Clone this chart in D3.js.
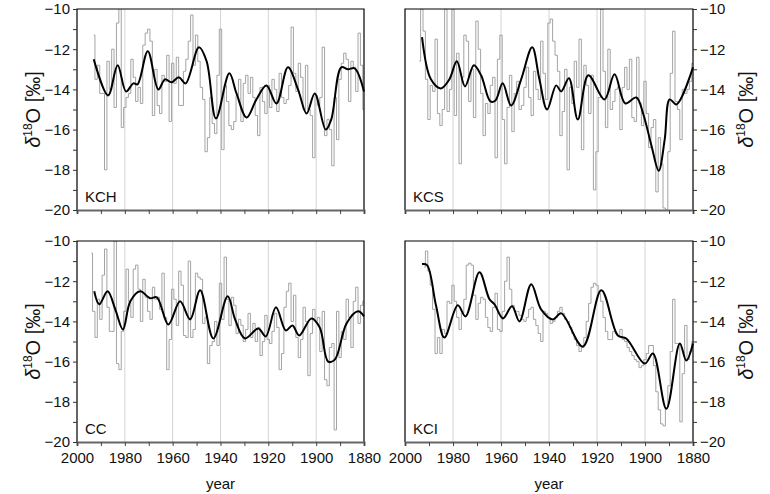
<!DOCTYPE html>
<html>
<head>
<meta charset="utf-8">
<script src="https://cdn.jsdelivr.net/npm/d3@7"></script>
<style>
  body { margin: 0; background: #fff; }
  text { font-family: "Liberation Sans", Arial, sans-serif; }
</style>
</head>
<body>
<script>
// annual series (grey steps), first year given, one value per year going back
const kchStart = 1993;
const kchAnnual = [
  -11.3,-13.5,-12.8,-14.2,-14.2,-18.0,-12.6,-14.0,-12.0,-14.9,
  -10.7,-9.9,-15.9,-14.9,-14.4,-14.2,-12.5,-13.4,-14.6,-13.9,
  -14.7,-11.8,-11.2,-11.0,-11.6,-15.3,-13.0,-14.8,-15.2,-13.3,
  -13.6,-12.3,-15.6,-12.7,-13.7,-12.4,-14.8,-14.8,-13.1,-12.5,
  -11.6,-10.3,-12.8,-11.3,-12.6,-13.9,-14.5,-17.1,-16.4,-14.4,
  -15.7,-16.2,-13.3,-11.0,-17.0,-13.8,-14.6,-15.8,-16.0,-15.6,
  -14.3,-13.5,-15.6,-13.7,-13.3,-14.2,-13.4,-14.4,-15.3,-16.3,
  -13.9,-14.6,-15.2,-13.8,-14.9,-13.5,-14.0,-15.1,-13.2,-14.4,-14.7,
  -14.5,-13.8,-10.9,-13.2,-14.1,-12.7,-13.4,-15.0,-12.8,-15.0,
  -15.3,-17.4,-14.3,-14.8,-14.4,-11.9,-16.3,-15.5,-16.0,-17.8,
  -14.4,-16.5,-13.5,-12.7,-12.2,-12.5,-14.6,-12.6,-12.9,-14.1,
  -11.2,-12.8,-15.0
];
const kcsStart = 1994;
const kcsAnnual = [
  -12.6,-10.0,-11.1,-13.5,-15.5,-13.8,-14.1,-11.5,-15.2,-15.8,
  -15.0,-10.0,-15.1,-14.0,-10.0,-15.3,-12.2,-17.7,-13.4,-11.3,
  -11.6,-14.6,-13.0,-15.4,-10.6,-12.0,-14.2,-16.3,-14.7,-15.2,
  -13.8,-13.4,-17.4,-12.5,-11.3,-15.5,-17.7,-14.9,-13.3,-16.1,
  -14.2,-13.6,-15.0,-14.8,-13.9,-12.9,-14.4,-15.3,-13.1,-14.0,
  -14.5,-11.6,-13.2,-14.5,-10.7,-10.5,-11.6,-12.3,-13.1,-16.3,
  -15.1,-13.0,-18.0,-13.9,-14.7,-12.6,-13.9,-11.5,-17.0,-12.8,
  -13.8,-15.2,-13.3,-19.0,-17.1,-14.4,-10.0,-13.1,-15.9,-12.0,
  -15.0,-14.6,-14.0,-13.9,-16.0,-13.9,-12.9,-14.0,-12.5,-15.4,
  -15.6,-12.4,-14.7,-15.8,-13.6,-15.2,-16.9,-15.9,-15.5,-19.1,
  -16.4,-17.7,-19.9,-20.0,-17.1,-13.2,-11.1,-14.6,-15.0,-16.5,
  -14.0,-14.2,-14.0,-13.6,-12.7
];
const ccStart = 1994;
const ccAnnual = [
  -10.6,-13.5,-14.8,-12.9,-13.9,-11.7,-10.4,-13.3,-14.5,-14.5,
  -10.0,-16.1,-16.4,-14.5,-13.5,-11.4,-13.0,-13.8,-11.4,-11.2,
  -12.4,-14.0,-11.9,-12.8,-13.5,-13.9,-12.3,-12.9,-12.8,-13.4,
  -11.6,-13.8,-16.4,-14.9,-12.4,-12.9,-14.2,-11.5,-12.2,-14.7,
  -14.8,-11.0,-14.8,-14.4,-11.6,-11.8,-11.9,-14.1,-13.8,-16.1,
  -15.2,-15.0,-14.0,-15.2,-12.1,-13.9,-10.8,-12.9,-14.2,-12.8,
  -13.2,-14.6,-13.9,-14.2,-15.0,-14.4,-13.6,-14.8,-14.1,
  -15.0,-14.3,-15.7,-15.0,-13.7,-14.9,-15.1,-14.5,-13.6,-14.3,
  -16.4,-15.6,-13.3,-12.5,-12.1,-14.0,-12.7,-14.8,-15.8,-14.9,
  -13.3,-14.0,-16.7,-14.6,-13.4,-14.0,-13.8,-15.5,-13.5,-16.9,
  -17.2,-15.3,-15.1,-19.4,-13.5,-15.8,-14.5,-14.9,-12.9,-13.8,
  -15.3,-13.0,-12.3,-14.1,-13.2,-13.0
];
const kciStart = 1992;
const kciAnnual = [
  -11.3,-10.5,-11.5,-12.2,-13.4,-15.6,-14.8,-15.6,-14.4,-14.6,
  -13.0,-13.1,-12.2,-13.0,-13.8,-14.4,-13.6,-12.9,-11.2,-11.1,
  -11.2,-12.7,-13.9,-13.1,-12.8,-12.9,-13.8,-14.3,-14.5,-13.3,
  -12.6,-14.4,-14.5,-13.5,-12.0,-10.8,-12.4,-13.2,-13.5,-13.5,
  -13.7,-13.9,-14.0,-13.8,-13.4,-13.3,-13.9,-14.2,-14.6,-15.0,
  -13.5,-13.6,-13.8,-14.1,-14.0,-13.8,-13.5,-13.3,-13.6,-13.9,
  -14.0,-14.3,-14.6,-14.9,-15.2,-15.5,-15.3,-14.8,-14.0,-13.1,
  -12.3,-12.1,-12.2,-12.6,-13.0,-13.8,-14.5,-14.9,-14.9,-14.5,
  -14.6,-14.7,-14.4,-14.9,-15.0,-15.3,-15.5,-15.7,-15.9,-16.0,
  -16.3,-16.2,-15.9,-15.6,-15.2,-15.2,-16.2,-17.5,-18.4,-19.1,
  -19.2,-18.3,-17.2,-15.5,-12.9,-15.1,-15.1,-19.0,-16.6,-14.2,
  -15.9,-15.5,-15.0
];

// smoothed curves: [year, value]
const kchSmooth = [[1993,-12.5],[1987,-14.3],[1983,-12.8],[1979.5,-14.1],[1976.4,-13.7],[1974.7,-13.75],
  [1970.4,-12.1],[1966,-14.0],[1963.2,-13.5],[1960.5,-13.65],[1957.4,-13.4],[1954.6,-13.7],[1949,-11.9],
  [1945.8,-12.6],[1941.9,-15.45],[1936.3,-13.2],[1933.3,-14.2],[1929.1,-15.4],[1925,-14.5],[1920.8,-13.8],
  [1916.6,-14.7],[1911.8,-12.9],[1907.6,-14.0],[1904,-15.2],[1900.6,-14.2],[1896,-16.0],[1893.7,-15.5],
  [1889.5,-12.9],[1886.7,-13.0],[1883.9,-12.95],[1880,-14.1]];
const kcsSmooth = [[1992.9,-11.4],[1989.2,-13.5],[1985,-13.95],[1981.5,-13.5],[1978.4,-12.6],[1975,-13.85],
  [1971.3,-12.8],[1968.3,-13.3],[1964.4,-14.6],[1962.3,-14.55],[1959.3,-13.7],[1955.8,-14.8],[1951.6,-13.5],
  [1947,-11.9],[1944,-13.5],[1940.8,-15.0],[1937,-13.8],[1934.9,-14.1],[1931.7,-13.45],[1928,-15.5],
  [1923.6,-13.3],[1916.9,-14.5],[1912.7,-13.25],[1908.2,-14.7],[1903.6,-14.4],[1900.8,-15.2],[1897.3,-16.8],
  [1894.3,-18.05],[1891.8,-16.5],[1889.7,-14.5],[1886.9,-14.75],[1880,-12.9]];
const ccSmooth = [[1992.8,-12.5],[1990.7,-13.15],[1987.2,-12.5],[1984,-13.4],[1980.8,-14.4],[1977.7,-13.0],
  [1973.6,-12.5],[1969.4,-12.85],[1966.6,-12.8],[1961.8,-14.15],[1956.9,-13.0],[1952.7,-13.9],[1948.5,-12.45],
  [1943,-14.85],[1937,-12.75],[1933.9,-13.9],[1929.8,-14.85],[1924.2,-14.35],[1921.1,-14.75],[1916.8,-13.3],
  [1912.7,-14.45],[1909.9,-14.2],[1907.1,-14.7],[1902,-13.85],[1898.5,-14.3],[1895,-16.0],[1892.2,-15.9],
  [1887.3,-14.1],[1882.5,-13.5],[1880,-13.75]];
const kciSmooth = [[1992.9,-11.15],[1990.8,-11.2],[1987.1,-13.2],[1983.6,-14.8],[1978,-13.2],[1974.8,-13.75],
  [1969,-11.55],[1964.8,-12.9],[1962.7,-13.15],[1959.2,-13.85],[1955.4,-13.25],[1952.3,-14.0],[1947.4,-12.15],
  [1943.3,-13.4],[1938.4,-13.9],[1934.9,-13.6],[1925.9,-15.25],[1918.2,-12.45],[1911.3,-14.7],[1907.8,-14.85],
  [1900.1,-16.1],[1896.7,-15.6],[1891.1,-18.35],[1885.5,-15.1],[1882.8,-15.95],[1880,-15.1]];

const gridYears = [1980, 1960, 1940, 1920, 1900];
const valueTicks = [-10, -12, -14, -16, -18, -20];

const panels = [
  {name: "KCH", start: kchStart, annual: kchAnnual, smooth: kchSmooth, col: 0, row: 0},
  {name: "KCS", start: kcsStart, annual: kcsAnnual, smooth: kcsSmooth, col: 1, row: 0},
  {name: "CC",  start: ccStart,  annual: ccAnnual,  smooth: ccSmooth,  col: 0, row: 1},
  {name: "KCI", start: kciStart, annual: kciAnnual, smooth: kciSmooth, col: 1, row: 1}
];

const W = 770, H = 494;
const colX = [[77, 364], [405, 693]];
const rowY = [[9, 210], [241, 442]];

const svg = d3.select("body").append("svg").attr("width", W).attr("height", H);

panels.forEach(p => {
  const x = d3.scaleLinear().domain([2000, 1880]).range(colX[p.col]);
  const y = d3.scaleLinear().domain([-20, -10]).range([rowY[p.row][1], rowY[p.row][0]]);
  const g = svg.append("g");
  const [x0, x1] = x.range(), [y1, y0] = y.range();

  g.selectAll("line.grid").data(gridYears).enter().append("line")
    .attr("x1", d => x(d)).attr("x2", d => x(d)).attr("y1", y0).attr("y2", y1)
    .attr("stroke", "#d4d4d4").attr("stroke-width", 1);

  const clipId = "clip" + p.name;
  g.append("clipPath").attr("id", clipId).append("rect")
    .attr("x", x0).attr("y", y0).attr("width", x1 - x0).attr("height", y1 - y0);

  const annual = p.annual.map((v, i) => [p.start - i, v]);
  g.append("path").datum(annual)
    .attr("clip-path", `url(#${clipId})`)
    .attr("fill", "none").attr("stroke", "#9a9a9a").attr("stroke-width", 0.9)
    .attr("d", d3.line().x(d => x(d[0])).y(d => y(d[1])).curve(d3.curveStep));

  g.append("path").datum(p.smooth)
    .attr("fill", "none").attr("stroke", "#000").attr("stroke-width", 2)
    .attr("d", d3.line().x(d => x(d[0])).y(d => y(d[1])).curve(d3.curveCatmullRom));

  // frame
  g.append("path").attr("fill", "none").attr("stroke", "#000").attr("stroke-width", 1.2)
    .attr("d", `M${x0},${y1}V${y0}H${x1}V${y1}`);

  // x axis
  const xa = d3.axisBottom(x).tickValues(d3.range(2000, 1879, -10)).tickSize(4)
    .tickFormat(d => (p.row === 1 && d % 20 === 0) ? d : "");
  const xg = g.append("g").attr("transform", `translate(0,${y1})`).call(xa);
  xg.select(".domain").attr("stroke", "#666").attr("stroke-width", 2);
  xg.selectAll(".tick line").attr("stroke", "#444");
  xg.selectAll("text").attr("font-size", 15).attr("fill", "#111").attr("dy", "0.9em");

  // y axis
  const yAxisF = p.col === 0 ? d3.axisLeft : d3.axisRight;
  const ya = yAxisF(y).tickValues(d3.range(-20, -9, 1)).tickSize(4)
    .tickFormat(d => valueTicks.includes(d) ? "\u2212" + Math.abs(d) : "");
  const yg = g.append("g").attr("transform", `translate(${p.col === 0 ? x0 : x1},0)`).call(ya);
  yg.select(".domain").remove();
  yg.selectAll(".tick line").attr("stroke", "#333");
  yg.selectAll("text").attr("font-size", 15).attr("fill", "#111");

  // panel label
  g.append("text").attr("x", x0 + 8).attr("y", y1 - 8)
    .attr("font-size", 15).attr("fill", "#111").text(p.name);

  // y label
  const lx = p.col === 0 ? 40 : 753;
  const lab = g.append("text")
    .attr("transform", `translate(${lx},${(y0 + y1) / 2}) rotate(-90)`)
    .attr("text-anchor", "middle").attr("font-size", 20).attr("fill", "#111");
  lab.append("tspan").attr("font-style", "italic").text("\u03b4");
  lab.append("tspan").attr("font-size", 12).attr("dy", -8).text("18");
  lab.append("tspan").attr("dy", 8).text("O [\u2030]");

  if (p.row === 1) {
    g.append("text").attr("x", (x0 + x1) / 2).attr("y", 489)
      .attr("text-anchor", "middle").attr("font-size", 15).attr("fill", "#111").text("year");
  }
});
</script>
</body>
</html>
